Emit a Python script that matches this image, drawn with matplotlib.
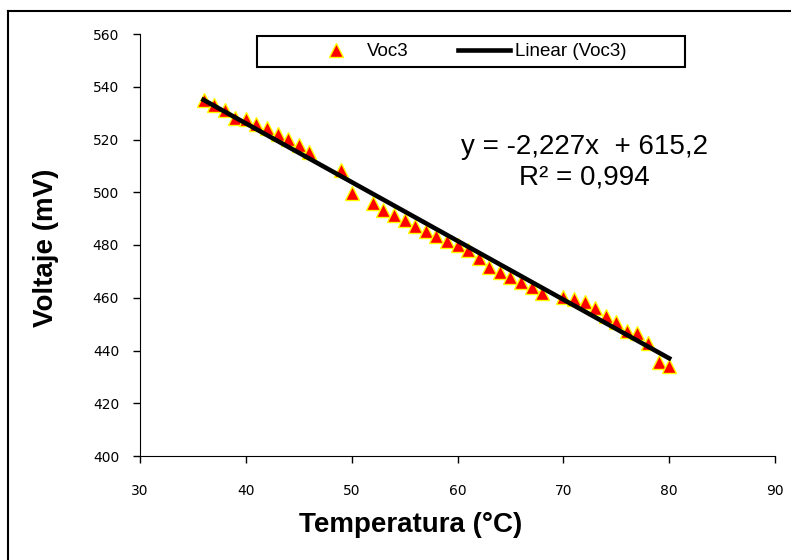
import matplotlib
matplotlib.use("Agg")
import matplotlib.pyplot as plt
from matplotlib.lines import Line2D
from matplotlib.patches import Rectangle

temperatura = [36, 37, 38, 39, 40, 41, 42, 43, 44, 45, 46, 49, 50, 52, 53, 54, 55,
               56, 57, 58, 59, 60, 61, 62, 63, 64, 65, 66, 67, 68, 70, 71, 72, 73,
               74, 75, 76, 77, 78, 79, 80]
voc3 = [535.0, 533.1, 531.2, 528.3, 527.8, 525.8, 524.5, 522.0, 520.2, 517.9, 515.4,
        508.4, 499.6, 496.0, 493.3, 491.4, 489.5, 487.3, 485.3, 483.4, 481.5, 479.9,
        478.1, 475.0, 471.8, 469.9, 468.0, 465.9, 464.2, 461.7, 460.4, 459.6, 458.5,
        456.0, 453.1, 450.9, 447.5, 446.5, 443.0, 435.8, 434.1]

# trendline as shown on the chart
slope = -2.227
intercept = 615.2
eq_text = "y = -2,227x  + 615,2\nR² = 0,994"

x_ticks = [30, 40, 50, 60, 70, 80, 90]
y_ticks = [400, 420, 440, 460, 480, 500, 520, 540, 560]

W, H = 791, 560
fig = plt.figure(figsize=(W / 100, H / 100), dpi=100)
ax = fig.add_axes([140 / W, 1 - 456 / H, (775 - 140) / W, (456 - 34) / H])

# outer chart frame (top and left edges visible)
fig.add_artist(Line2D([8 / W, 8 / W], [0, 1 - 11 / H], transform=fig.transFigure,
                      color="black", lw=1.5))
fig.add_artist(Line2D([8 / W, 1], [1 - 11 / H, 1 - 11 / H], transform=fig.transFigure,
                      color="black", lw=1.5))

x_fit = [temperatura[0], temperatura[-1]]
y_fit = [slope * t + intercept for t in x_fit]

ax.plot(temperatura, voc3, linestyle="none", marker="^", markersize=9.5,
        markerfacecolor="red", markeredgecolor="yellow", markeredgewidth=1,
        label="Voc3", zorder=2)
ax.plot(x_fit, y_fit, color="black", lw=3.3, label="Linear (Voc3)", zorder=3)

ax.set_xlim(30, 90)
ax.set_ylim(400, 560)
ax.set_xticks(x_ticks)
ax.set_yticks(y_ticks)
ax.tick_params(axis="both", direction="out", length=5, width=1, labelsize=10)
ax.tick_params(axis="x", pad=15)
ax.tick_params(axis="y", pad=10)
for s in ["top", "right"]:
    ax.spines[s].set_visible(False)

ax.set_xlabel("Temperatura (°C)", fontsize=20, fontweight="bold",
              family="Liberation Sans", va="center")
ax.set_ylabel("Voltaje (mV)", fontsize=20, fontweight="bold",
              family="Liberation Sans", va="center")
ax.xaxis.set_label_coords((411 - 140) / 635, -(525 - 456) / 422)
ax.yaxis.set_label_coords(-(140 - 46) / 635, (456 - 248) / 422)

ax.text((584 - 140) / 635, (456 - 162) / 422, eq_text, transform=ax.transAxes,
        ha="center", va="center", fontsize=20, family="Liberation Sans", linespacing=1.25)

# legend frame drawn separately, like the Excel box
ax.add_patch(Rectangle(((257 - 140) / 635, (456 - 67) / 422), 428 / 635, 31 / 422,
                       transform=ax.transAxes, facecolor="white", edgecolor="black",
                       lw=1.5, zorder=4, clip_on=False))
leg = ax.legend(loc="center left", bbox_to_anchor=((310 - 140) / 635, (456 - 51.5) / 422),
                ncol=2, frameon=False, borderpad=0, borderaxespad=0,
                prop={"family": "Liberation Sans", "size": 13.5},
                handlelength=2.8, handletextpad=0.25, columnspacing=2.6)
leg.set_zorder(5)

fig.savefig("out.png", dpi=100)
